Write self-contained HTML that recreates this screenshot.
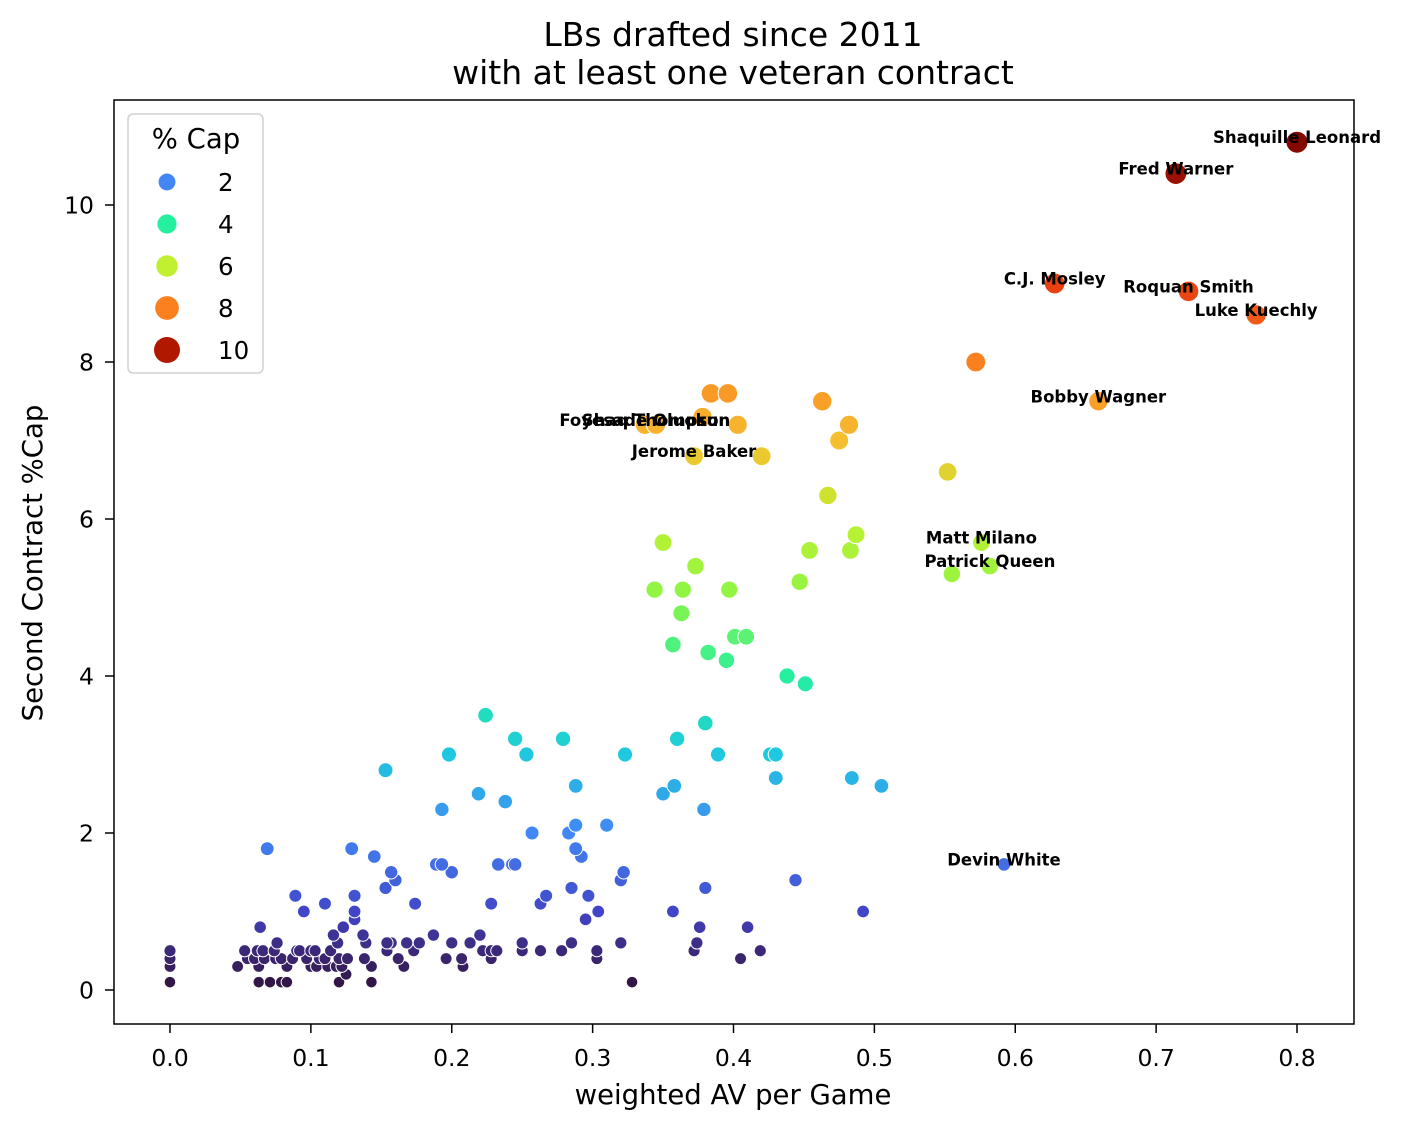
<!DOCTYPE html>
<html><head><meta charset="utf-8"><style>
html,body{margin:0;padding:0;background:#fff;}
svg{display:block;font-family:"DejaVu Sans","Liberation Sans",sans-serif;}
</style></head><body>
<svg id="chart" width="1402" height="1131" viewBox="0 0 1402 1131">
<text x="733" y="46" font-size="33" text-anchor="middle">LBs drafted since 2011</text>
<text x="733" y="84" font-size="33" text-anchor="middle">with at least one veteran contract</text>
<text x="733" y="1104" font-size="27.5" text-anchor="middle">weighted AV per Game</text>
<text x="0" y="0" font-size="27.5" text-anchor="middle" transform="translate(42,563) rotate(-90)">Second Contract %Cap</text>
<g id="ticks"></g>
<g id="points"></g>
<g id="labels"></g>
<rect x="114" y="100" width="1240" height="924" fill="none" stroke="#000" stroke-width="1.5"/>
<g id="legend">
<rect x="128" y="114" width="135" height="259" rx="5" fill="#fff" stroke="#d0d0d0" stroke-width="1.5"/>
<text x="196" y="148" font-size="27.5" text-anchor="middle">% Cap</text>
</g>
</svg>
<script>
const xs=[0.8,0.714,0.628,0.723,0.771,0.572,0.659,0.384,0.396,0.463,0.378,0.337,0.345,0.403,0.482,0.475,0.372,0.420,0.552,0.467,
0.350,0.487,0.576,0.454,0.483,0.373,0.582,0.555,0.447,0.344,0.364,0.397,0.363,
0.401,0.409,0.357,0.382,0.395,0.438,0.451,
0.224,0.380,0.245,0.279,0.360,0.198,0.253,0.323,0.389,0.426,0.430,0.153,0.430,0.484,0.288,0.358,0.505,0.350,0.219,0.238,0.193,0.379,0.288,0.310,0.257,0.283,
0.069,0.129,0.288,0.145,0.292,0.189,0.193,0.233,0.243,0.245,0.592,0.157,0.200,0.322,0.160,0.320,0.444,0.153,0.285,0.380,0.089,0.131,0.267,0.297,0.110,0.174,0.228,0.263,0.095,0.131,0.304,0.357,0.492,0.131,0.295,
0,0,0,0,0.048,0.053,0.055,0.06,0.062,0.064,0.063,0.066,0.067,0.063,0.071,0.075,0.076,0.074,0.079,0.079,0.083,0.083,0.087,0.09,0.092,0.097,0.1,0.1,0.103,0.104,0.106,0.11,0.112,0.114,0.116,0.118,0.119,0.12,0.12,0.123,0.122,0.125,0.126,0.137,0.138,0.139,0.143,0.143,0.154,0.157,0.162,0.166,0.168,0.173,0.177,0.187,0.196,0.2,0.207,0.208,0.213,0.22,0.222,0.228,0.228,0.232,0.25,0.25,0.263,0.278,0.285,0.303,0.303,0.32,0.328,0.372,0.374,0.376,0.405,0.41,0.419,0.154];
const ys=[10.8,10.4,9.0,8.9,8.6,8.0,7.5,7.6,7.6,7.5,7.3,7.2,7.2,7.2,7.2,7.0,6.8,6.8,6.6,6.3,
5.7,5.8,5.7,5.6,5.6,5.4,5.4,5.3,5.2,5.1,5.1,5.1,4.8,
4.5,4.5,4.4,4.3,4.2,4.0,3.9,
3.5,3.4,3.2,3.2,3.2,3.0,3.0,3.0,3.0,3.0,3.0,2.8,2.7,2.7,2.6,2.6,2.6,2.5,2.5,2.4,2.3,2.3,2.1,2.1,2.0,2.0,
1.8,1.8,1.8,1.7,1.7,1.6,1.6,1.6,1.6,1.6,1.6,1.5,1.5,1.5,1.4,1.4,1.4,1.3,1.3,1.3,1.2,1.2,1.2,1.2,1.1,1.1,1.1,1.1,1.0,1.0,1.0,1.0,1.0,0.9,0.9,
0.5,0.4,0.3,0.1,0.3,0.5,0.4,0.4,0.5,0.8,0.3,0.5,0.4,0.1,0.1,0.4,0.6,0.5,0.4,0.1,0.3,0.1,0.4,0.5,0.5,0.4,0.5,0.3,0.5,0.3,0.4,0.4,0.3,0.5,0.7,0.3,0.6,0.4,0.1,0.8,0.3,0.2,0.4,0.7,0.4,0.6,0.3,0.1,0.5,0.6,0.4,0.3,0.6,0.5,0.6,0.7,0.4,0.6,0.4,0.3,0.6,0.7,0.5,0.5,0.4,0.5,0.6,0.5,0.5,0.5,0.6,0.5,0.4,0.6,0.1,0.5,0.6,0.8,0.4,0.8,0.5,0.6];
const labelNames=["Shaquille Leonard","Fred Warner","C.J. Mosley","Roquan Smith","Luke Kuechly","Bobby Wagner","Foyesade Oluokun","Shaq Thompson","Jerome Baker","Matt Milano","Patrick Queen","Devin White"];
const labelX=[0.8,0.714,0.628,0.723,0.771,0.659,0.337,0.345,0.372,0.576,0.582,0.592];
const labelY=[10.8,10.4,9.0,8.9,8.6,7.5,7.2,7.2,6.8,5.7,5.4,1.6];
const xTicks=[0,0.1,0.2,0.3,0.4,0.5,0.6,0.7,0.8];
const yTicks=[0,2,4,6,8,10];
const legendVals=[2,4,6,8,10];

const NS="http://www.w3.org/2000/svg";
const X=v=>170+v*1408.75;
const Y=v=>990-v*78.5;
const stops=[[0,[48,18,59]],[0.5,[60,40,120]],[1,[65,70,200]],[2,[66,135,245]],[3,[31,200,222]],[4,[37,240,160]],[5,[142,245,69]],[6,[192,240,48]],[7,[245,192,48]],[8,[251,128,32]],[9,[232,64,16]],[10,[176,24,0]],[11,[122,4,3]]];
function col(v){for(let i=0;i<stops.length-1;i++){const a=stops[i],b=stops[i+1];if(v<=b[0]){const t=(v-a[0])/(b[0]-a[0]);return 'rgb('+a[1].map((c,k)=>Math.round(c+(b[1][k]-c)*t)).join(',')+')';}}return 'rgb(122,4,3)';}
const rad=v=>Math.sqrt(32.7+8.2*v);
const legRad=v=>7.3+0.57*v;
function mk(t,a,p){const e=document.createElementNS(NS,t);for(const k in a)e.setAttribute(k,a[k]);p.appendChild(e);return e;}

const tk=document.getElementById('ticks');
xTicks.forEach(v=>{
  const l=mk('line',{x1:X(v),x2:X(v),y1:1024,y2:1033,stroke:'#000','stroke-width':1.5},tk);
  
  
  const t=mk('text',{x:X(v),y:1066,'font-size':23.5,'text-anchor':'middle'},tk);
  t.textContent=v.toFixed(1);
  
  
});
yTicks.forEach(v=>{
  const l=mk('line',{x1:105,x2:114,y1:Y(v),y2:Y(v),stroke:'#000','stroke-width':1.5},tk);
  
  
  const t=mk('text',{x:94,y:Y(v)+8.5,'font-size':23.5,'text-anchor':'end'},tk);
  t.textContent=v;
  
  
});
const pg=document.getElementById('points');
const idx=xs.map((_,i)=>i).sort((a,b)=>ys[a]-ys[b]);
idx.forEach(i=>{
  const c=mk('circle',{cx:X(xs[i]),cy:Y(ys[i]),r:rad(ys[i]),fill:col(ys[i]),stroke:'#fff','stroke-width':1},pg);
  
  
});
const lg=document.getElementById('labels');
labelNames.forEach((n,i)=>{
  const t=mk('text',{x:X(labelX[i]),y:Y(labelY[i])+1,'font-size':16.5,'font-weight':'bold','text-anchor':'middle'},lg);
  t.textContent=n;
  
  
});
const leg=document.getElementById('legend');
legendVals.forEach((v,i)=>{
  const y=182+i*42;
  const c=mk('circle',{cx:167,cy:y,r:legRad(v),fill:col(v)},leg);
  
  
  const t=mk('text',{x:218,y:y+9,'font-size':24.5},leg);
  t.textContent=v;
  
  
});
</script>
</body></html>
